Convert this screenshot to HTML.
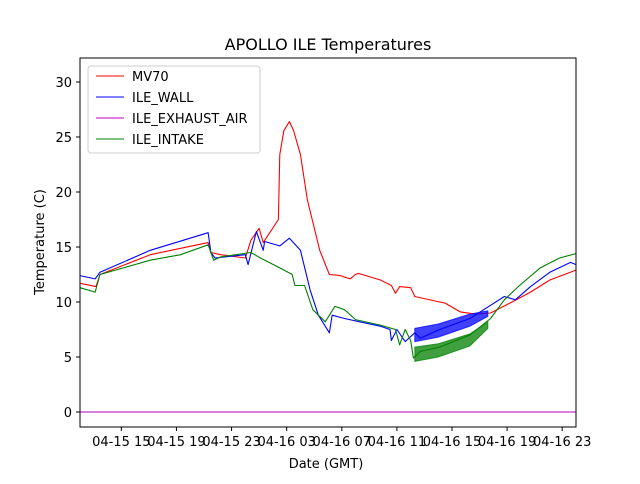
<!DOCTYPE html>
<html><head><meta charset="utf-8"><style>
body{margin:0;background:#fff;font-family:"DejaVu Sans","Liberation Sans",sans-serif;}
svg text{font-family:"DejaVu Sans","Liberation Sans",sans-serif;}
</style></head><body>
<svg id="chart" width="640" height="480" xmlns="http://www.w3.org/2000/svg">
<rect width="640" height="480" fill="#fff"/>
<text x="328" y="50" font-size="16" text-anchor="middle">APOLLO ILE Temperatures</text>
<g id="plot"></g>
<rect x="80" y="58" width="496" height="369" fill="none" stroke="#000" stroke-width="1"/>
<g id="ticks"></g>
<text x="326" y="468" font-size="13" text-anchor="middle">Date (GMT)</text>
<text transform="translate(44,242) rotate(-90)" font-size="13" text-anchor="middle">Temperature (C)</text>
<g>
<rect x="88" y="66" width="172" height="87" rx="3" fill="#fff" fill-opacity="0.85" stroke="#ccc"/>
<line x1="96" y1="76" x2="124" y2="76" stroke="red"/><text x="132" y="81" font-size="13">MV70</text>
<line x1="96" y1="97" x2="124" y2="97" stroke="#00f"/><text x="132" y="102" font-size="13">ILE_WALL</text>
<line x1="96" y1="118" x2="124" y2="118" stroke="#b0b"/><text x="132" y="123" font-size="13">ILE_EXHAUST_AIR</text>
<line x1="96" y1="139" x2="124" y2="139" stroke="green"/><text x="132" y="144" font-size="13">ILE_INTAKE</text>
</g>
</svg>
<script>
// hours since 04-15 12:00
const xTickHours=[3,7,11,15,19,23,27,31,35];
const xTickLabels=["04-15 15","04-15 19","04-15 23","04-16 03","04-16 07","04-16 11","04-16 15","04-16 19","04-16 23"];
const yTicks=[0,5,10,15,20,25,30];
const mvX=[0,1.16,1.45,5.1,9.3,9.5,10.2,12,12.4,13,13.3,14.4,14.5,14.8,15.2,15.5,16,16.5,17.4,18.1,18.9,19.6,20,20.2,21.8,22.6,22.9,23.2,24,24.3,26.1,26.5,27.6,28.7,29.8,31.2,32.7,34.1,36];
const mvY=[11.7,11.4,12.5,14.3,15.4,14.5,14.3,14.0,15.6,16.7,15.4,17.5,23.4,25.6,26.4,25.6,23.4,19.3,14.7,12.5,12.4,12.1,12.5,12.6,12,11.5,10.8,11.4,11.3,10.5,10.0,9.9,9.1,8.9,9.0,9.9,10.9,12.0,12.9];
const wallX=[0,1.1,1.45,5.1,9.3,9.5,9.8,12,12.2,12.5,12.8,13.3,13.4,14.5,15.2,16,16.7,17.3,18.1,18.3,19.2,20.3,21.8,22.5,22.6,23,23.6,24.3,24.7,26.1,28.3,29.8,30.8,31.6,32.7,34.1,35.6,36];
const wallY=[12.4,12.1,12.7,14.7,16.3,14.5,14.0,14.3,13.4,14.9,16.4,14.7,15.5,15.1,15.8,14.7,11.1,8.8,7.2,8.8,8.5,8.2,7.8,7.5,6.5,7.5,6.4,7.2,6.7,7.5,8.5,9.7,10.5,10.2,11.4,12.7,13.6,13.4];
const intakeX=[0,1.1,1.45,5.1,7.3,9.3,9.7,10.2,12.4,13.1,14.5,15.4,15.6,16.3,16.9,17.8,18.5,19.2,20,21.8,22.9,23.2,23.6,24,24.2,24.7,26.1,28.3,29.8,30.8,31.9,33.4,34.8,36];
const intakeY=[11.3,10.9,12.5,13.8,14.3,15.2,13.8,14.1,14.5,14.0,13.1,12.5,11.5,11.5,9.3,8.2,9.6,9.3,8.4,7.9,7.5,6.1,7.5,6.5,4.9,5.5,5.9,7.0,8.5,10.2,11.5,13.1,14.0,14.4];
const exhaustX=[0,36];
const exhaustY=[0,0];
const bandX=[24.3,26,28.3,29.6];
const wallLo=[6.4,6.8,7.8,8.7], wallHi=[7.6,8.0,8.9,9.2];
const intakeLo=[4.6,5.0,6.0,7.6], intakeHi=[5.9,6.2,7.1,8.2];

const X0=80,X1=576,Y0=412,PXU=11;
const sx=h=>X0+h*(X1-X0)/36;
const sy=v=>Y0-v*PXU;
const NS="http://www.w3.org/2000/svg";
const plot=document.getElementById('plot'), ticks=document.getElementById('ticks');
function mk(tag,attrs,parent){const e=document.createElementNS(NS,tag);for(const k in attrs)e.setAttribute(k,attrs[k]);parent.appendChild(e);return e;}
function band(xs,lo,hi,color,name){
  const pts=xs.map((x,i)=>sx(x)+','+sy(hi[i])).concat(xs.map((x,i)=>sx(x)+','+sy(lo[i])).reverse());
  const p=mk('polygon',{points:pts.join(' '),fill:color,'fill-opacity':0.75,stroke:color,'stroke-opacity':0.75,'stroke-width':1},plot);
  
  
}
function line(xs,ys,color,name){
  const p=mk('polyline',{points:xs.map((x,i)=>sx(x)+','+sy(ys[i])).join(' '),fill:'none',stroke:color,'stroke-width':1.1,'stroke-linejoin':'round'},plot);
  
  
}
line(mvX,mvY,'red','mv70-line');
band(bandX,wallLo,wallHi,'#00f','ile-wall-noise-band');
line(wallX,wallY,'#00f','ile-wall-line');
line(exhaustX,exhaustY,'#b0b','ile-exhaust-air-line');
band(bandX,intakeLo,intakeHi,'green','ile-intake-noise-band');
line(intakeX,intakeY,'green','ile-intake-line');
xTickHours.forEach((h,i)=>{
  const x=sx(h);
  const t=mk('line',{x1:x,y1:427,x2:x,y2:431,stroke:'#000'},ticks);
  
  
  const l=mk('text',{x:x,y:446,'font-size':13,'text-anchor':'middle'},ticks);
  l.textContent=xTickLabels[i];
  
  
});
yTicks.forEach(v=>{
  const y=sy(v);
  const t=mk('line',{x1:76,y1:y,x2:80,y2:y,stroke:'#000'},ticks);
  
  
  const l=mk('text',{x:72,y:y+5,'font-size':13,'text-anchor':'end'},ticks);
  l.textContent=v;
  
  
});
</script>
</body></html>
